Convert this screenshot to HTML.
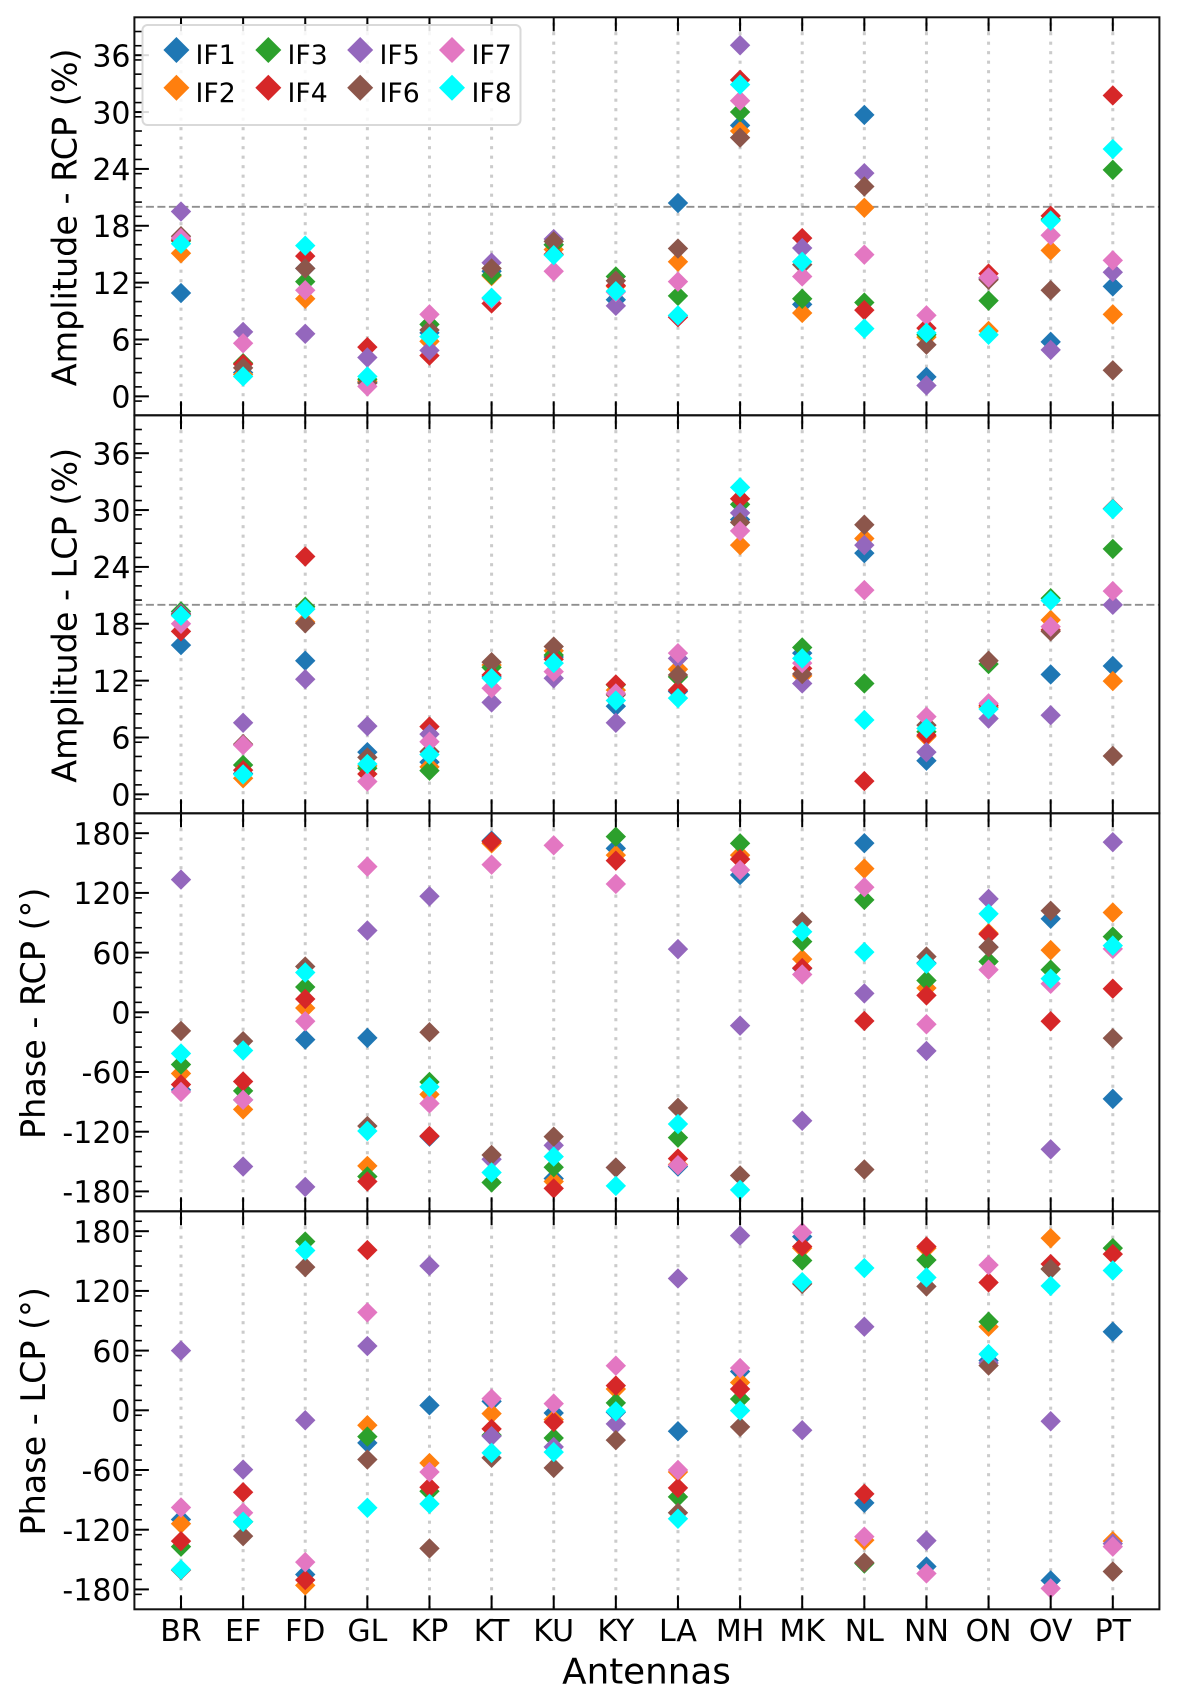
<!DOCTYPE html>
<html lang="en">
<head>
<meta charset="utf-8">
<title>Antenna gain amplitude and phase by IF</title>
<style>
html,body{margin:0;padding:0;background:#fff;}
svg{display:block;}
text{font-family:"DejaVu Sans","Liberation Sans",sans-serif;fill:#000;}
</style>
</head>
<body>
<svg id="chart" width="1200" height="1699" viewBox="0 0 1200 1699" xmlns="http://www.w3.org/2000/svg">
  <rect x="0" y="0" width="1200" height="1699" fill="#fff"></rect>
  <g id="plots"></g>
  <text x="646.5" y="1683.5" font-size="35.7" text-anchor="middle">Antennas</text>
  <g>
    <rect x="142.5" y="25" width="378" height="100" rx="5" ry="5" fill="#fff" fill-opacity="0.85" stroke="#d9d9d9" stroke-width="2"></rect>
    <g><path d="M176.4 37L189.4 50L176.4 63L163.4 50Z" fill="#1f77b4"></path><text x="195.5" y="63.8" font-size="26.7">IF1</text></g>
    <g><path d="M176.4 74.7L189.4 87.7L176.4 100.7L163.4 87.7Z" fill="#ff7f0e"></path><text x="195.5" y="102.2" font-size="26.7">IF2</text></g>
    <g><path d="M268.3 37L281.3 50L268.3 63L255.3 50Z" fill="#2ca02c"></path><text x="287.5" y="63.8" font-size="26.7">IF3</text></g>
    <g><path d="M268.3 74.7L281.3 87.7L268.3 100.7L255.3 87.7Z" fill="#d62728"></path><text x="287.5" y="102.2" font-size="26.7">IF4</text></g>
    <g><path d="M360.2 37L373.2 50L360.2 63L347.2 50Z" fill="#9467bd"></path><text x="379.5" y="63.8" font-size="26.7">IF5</text></g>
    <g><path d="M360.2 74.7L373.2 87.7L360.2 100.7L347.2 87.7Z" fill="#8c564b"></path><text x="379.5" y="102.2" font-size="26.7">IF6</text></g>
    <g><path d="M452 37L465 50L452 63L439 50Z" fill="#e377c2"></path><text x="471.5" y="63.8" font-size="26.7">IF7</text></g>
    <g><path d="M452 74.7L465 87.7L452 100.7L439 87.7Z" fill="#00ffff"></path><text x="471.5" y="102.2" font-size="26.7">IF8</text></g>
  </g>
</svg>
<script>
const antennas = ['BR','EF','FD','GL','KP','KT','KU','KY','LA','MH','MK','NL','NN','ON','OV','PT'];
const seriesNames = ['IF1','IF2','IF3','IF4','IF5','IF6','IF7','IF8'];
const seriesColors = ['#1f77b4','#ff7f0e','#2ca02c','#d62728','#9467bd','#8c564b','#e377c2','#00ffff'];
const amplitudeTicks = [0,6,12,18,24,30,36];
const phaseTicks = [-180,-120,-60,0,60,120,180];

const ampRcpIF1 = [10.9,2.5,13.5,1.5,6.7,13.2,16.0,10.2,20.4,28.6,9.7,29.7,2.05,12.5,5.75,11.6];
const ampRcpIF2 = [15.1,2.3,10.3,1.6,5.8,12.7,15.5,11.6,14.2,28.0,8.8,19.9,6.25,6.9,15.4,8.65];
const ampRcpIF3 = [16.4,3.5,12.1,1.8,7.6,12.8,16.0,12.65,10.6,30.0,10.3,9.9,6.5,10.1,18.7,23.9];
const ampRcpIF4 = [16.5,3.4,14.8,5.2,4.3,9.8,15.0,11.7,8.35,33.4,16.7,9.1,7.2,12.95,19.05,31.75];
const ampRcpIF5 = [19.5,6.8,6.6,4.1,4.85,14.1,16.6,9.55,8.5,37.05,15.65,23.55,1.15,12.4,4.9,13.1];
const ampRcpIF6 = [16.9,3.0,13.5,1.4,7.0,13.5,16.35,12.2,15.6,27.3,13.9,22.15,5.45,12.3,11.2,2.75];
const ampRcpIF7 = [16.7,5.6,11.2,1.05,8.65,10.3,13.2,11.0,12.1,31.2,12.65,14.95,8.55,12.55,17.0,14.35];
const ampRcpIF8 = [16.1,2.1,15.9,2.1,6.3,10.4,14.9,11.1,8.55,32.9,14.2,7.15,6.7,6.5,18.55,26.1];

const ampLcpIF1 = [15.75,2.2,14.1,4.45,3.4,12.4,14.5,9.3,10.85,29.0,14.9,25.45,3.55,9.2,12.65,13.55];
const ampLcpIF2 = [18.9,1.7,18.2,3.0,2.9,13.65,15.15,11.0,13.2,26.3,12.5,27.0,6.1,9.2,18.4,11.95];
const ampLcpIF3 = [19.3,3.1,19.8,2.75,2.5,13.4,14.7,11.55,12.4,30.6,15.5,11.7,6.6,13.75,20.7,25.9];
const ampLcpIF4 = [17.2,2.55,25.1,2.15,7.15,12.6,14.25,11.6,11.0,31.2,13.3,1.4,6.25,9.4,17.35,30.15];
const ampLcpIF5 = [19.1,7.55,12.15,7.2,6.35,9.7,12.25,7.55,14.35,29.7,11.7,26.3,4.45,8.0,8.35,20.0];
const ampLcpIF6 = [19.0,5.3,18.05,3.9,4.5,13.95,15.6,10.5,12.6,28.7,12.7,28.45,7.3,14.1,17.2,4.05];
const ampLcpIF7 = [18.0,5.2,19.55,1.35,5.55,11.2,12.95,10.65,14.9,27.8,13.85,21.55,8.2,9.6,17.7,21.45];
const ampLcpIF8 = [18.85,2.1,19.55,3.2,4.2,12.25,13.85,9.9,10.15,32.4,14.35,7.85,6.95,9.0,20.45,30.1];

const phaseRcpIF1 = [-78,-88,-27.4,-25.7,-125,172.5,-167,164.8,-155,138,44,170,49.5,65.5,94,-87];
const phaseRcpIF2 = [-61.5,-97.6,4.3,-154.4,-82.5,169.8,-170,158,-153,158,53.5,144.4,24.4,79.5,62.5,100.3];
const phaseRcpIF3 = [-52.5,-79,25.4,-165,-70,-171,-155.7,176.5,-126,169.8,71,113,32,51,42.8,76];
const phaseRcpIF4 = [-72.5,-69.5,13.4,-170,-124.3,171.5,-177,152.4,-147,154,44.5,-8.7,17,78.5,-9,23.7];
const phaseRcpIF5 = [133.4,-155,-175.5,82.2,116.6,-147.7,-133.7,-156,63.5,-13.4,-109,19,-38.8,114,-137.7,171];
const phaseRcpIF6 = [-18.7,-29,46,-114.3,-20,-143.4,-125,-156,-96,-164,91,-158,56,65.5,102,-26];
const phaseRcpIF7 = [-80,-88,-9,146.4,-91.6,148.4,167.8,129,-153.7,143,38,125.7,-12,42.8,28.7,63.8];
const phaseRcpIF8 = [-41.4,-38.4,40,-119.3,-75,-161,-145,-174.5,-112.3,-178.5,81,60.5,48.8,99,33.8,67];

const phaseLcpIF1 = [-109.7,-112,-165,-32.8,5,9,-2.7,-2,-21,39,174.6,-93,-157,50,-171,79];
const phaseLcpIF2 = [-114,-112,-176,-15,-53,-3.3,-9.4,21.4,-62,28,163,-130.5,163,84,173,-131.5];
const phaseLcpIF3 = [-137,-112,169.6,-26.4,-81.3,-25,-27.8,7.4,-87,11.4,150.6,-154,151,89,142,163];
const phaseLcpIF4 = [-131.5,-82.3,-170.6,161,-77.3,-18.7,-11.7,24.8,-78,21.4,164.6,-84,164.6,128.5,147,157];
const phaseLcpIF5 = [60,-59.6,-10,64.6,145.2,-26,-36.8,-13.7,132.5,175.6,-20,84,-131,47.5,-11,-134];
const phaseLcpIF6 = [-160.6,-126.5,143.9,-49.5,-138.8,-47.8,-57.9,-30,-103,-16.7,127,-153,124.5,45,142,-162];
const phaseLcpIF7 = [-97.7,-103,-152.6,98.4,-62,11.7,6.7,44.8,-60,42.5,178.7,-127,-164,146,-179,-137];
const phaseLcpIF8 = [-160,-112,160.6,-98,-94,-42.8,-42,-1,-109,-0.3,128.8,143,133.5,56.5,125,140.5];

const SVG_NS = 'http://www.w3.org/2000/svg';
const plots = document.getElementById('plots');
const axisLeft = 134.4, axisRight = 1159.4, panelHeight = 398, firstTop = 17.3;
const markerHalf = 10.2;

function make(parent, tag, attrs) {
  const el = document.createElementNS(SVG_NS, tag);
  for (const k in attrs) el.setAttribute(k, attrs[k]);
  parent.appendChild(el);
  return el;
}
function xScale(i) {
  return axisLeft + (i + 0.75) / 16.5 * (axisRight - axisLeft);
}

function drawPanel(index, cfg) {
  const top = firstTop + index * panelHeight;
  const bottom = top + panelHeight;
  const yScale = function (v) {
    return bottom - (v - cfg.yMin) / (cfg.yMax - cfg.yMin) * panelHeight;
  };
  const g = make(plots, 'g', {});
  
  

  antennas.forEach(function (ant, i) {
    const grid = make(g, 'line', {x1: xScale(i), x2: xScale(i), y1: bottom, y2: top, stroke: '#cbcbcb', 'stroke-width': 3, 'stroke-dasharray': '3.2 6.3'});
    
    
  });

  if (cfg.threshold !== null) {
    const ref = make(g, 'line', {x1: axisLeft, x2: axisRight, y1: yScale(cfg.threshold), y2: yScale(cfg.threshold), stroke: '#8f8f8f', 'stroke-width': 1.8, 'stroke-dasharray': '8 3.5'});
    
    
  }

  cfg.series.forEach(function (values, s) {
    const sg = make(g, 'g', {fill: seriesColors[s]});
    
    
    values.forEach(function (v, i) {
      const x = xScale(i), y = yScale(v);
      const d = 'M' + x + ' ' + (y - markerHalf) + 'L' + (x + markerHalf) + ' ' + y + 'L' + x + ' ' + (y + markerHalf) + 'L' + (x - markerHalf) + ' ' + y + 'Z';
      const m = make(sg, 'path', {d: d});
      
      
    });
  });

  antennas.forEach(function (ant, i) {
    const x = xScale(i);
    const t1 = make(g, 'line', {x1: x, x2: x, y1: top, y2: top + 14, stroke: '#000', 'stroke-width': 2});
    
    
    const t2 = make(g, 'line', {x1: x, x2: x, y1: bottom, y2: bottom - 14, stroke: '#000', 'stroke-width': 2});
    
    
  });

  for (let v = cfg.yMin; v <= cfg.yMax; v += cfg.minorStep) {
    const y = yScale(v);
    if (y > bottom - 1 || y < top + 1) continue;
    const mt = make(g, 'line', {x1: axisLeft, x2: axisLeft + 7.5, y1: y, y2: y, stroke: '#000', 'stroke-width': 1.6});
    
    
  }
  cfg.ticks.forEach(function (v) {
    const y = yScale(v);
    const t = make(g, 'line', {x1: axisLeft, x2: axisLeft + 14.5, y1: y, y2: y, stroke: '#000', 'stroke-width': 2});
    
    
    const lab = make(g, 'text', {x: 130.5, y: y + 11.2, 'font-size': 30, 'text-anchor': 'end'});
    lab.textContent = String(v);
    
    
  });

  const cy = (top + bottom) / 2 + 1;
  const title = make(g, 'text', {x: 0, y: 0, 'font-size': 33.4, 'text-anchor': 'middle', transform: 'translate(' + cfg.titleX + ' ' + cy + ') rotate(-90)'});
  title.textContent = cfg.title;
  
  

  const frame = make(g, 'rect', {x: axisLeft, y: top, width: axisRight - axisLeft, height: panelHeight, fill: 'none', stroke: '#111', 'stroke-width': 2});
  
  

  if (cfg.showX) {
    antennas.forEach(function (ant, i) {
      const lab = make(g, 'text', {x: xScale(i), y: 1641, 'font-size': 30, 'text-anchor': 'middle'});
      lab.textContent = ant;
      
      
    });
  }
}

drawPanel(0, {name: 'panel-amplitude-rcp', title: 'Amplitude - RCP (%)', titleX: 76.5, yMin: -2, yMax: 40, minorStep: 1.5, ticks: amplitudeTicks, threshold: 20, showX: false,
  series: [ampRcpIF1, ampRcpIF2, ampRcpIF3, ampRcpIF4, ampRcpIF5, ampRcpIF6, ampRcpIF7, ampRcpIF8]});
drawPanel(1, {name: 'panel-amplitude-lcp', title: 'Amplitude - LCP (%)', titleX: 76.5, yMin: -2, yMax: 40, minorStep: 1.5, ticks: amplitudeTicks, threshold: 20, showX: false,
  series: [ampLcpIF1, ampLcpIF2, ampLcpIF3, ampLcpIF4, ampLcpIF5, ampLcpIF6, ampLcpIF7, ampLcpIF8]});
drawPanel(2, {name: 'panel-phase-rcp', title: 'Phase - RCP (\u00B0)', titleX: 45, yMin: -200, yMax: 200, minorStep: 15, ticks: phaseTicks, threshold: null, showX: false,
  series: [phaseRcpIF1, phaseRcpIF2, phaseRcpIF3, phaseRcpIF4, phaseRcpIF5, phaseRcpIF6, phaseRcpIF7, phaseRcpIF8]});
drawPanel(3, {name: 'panel-phase-lcp', title: 'Phase - LCP (\u00B0)', titleX: 45, yMin: -200, yMax: 200, minorStep: 15, ticks: phaseTicks, threshold: null, showX: true,
  series: [phaseLcpIF1, phaseLcpIF2, phaseLcpIF3, phaseLcpIF4, phaseLcpIF5, phaseLcpIF6, phaseLcpIF7, phaseLcpIF8]});
</script>
</body>
</html>
